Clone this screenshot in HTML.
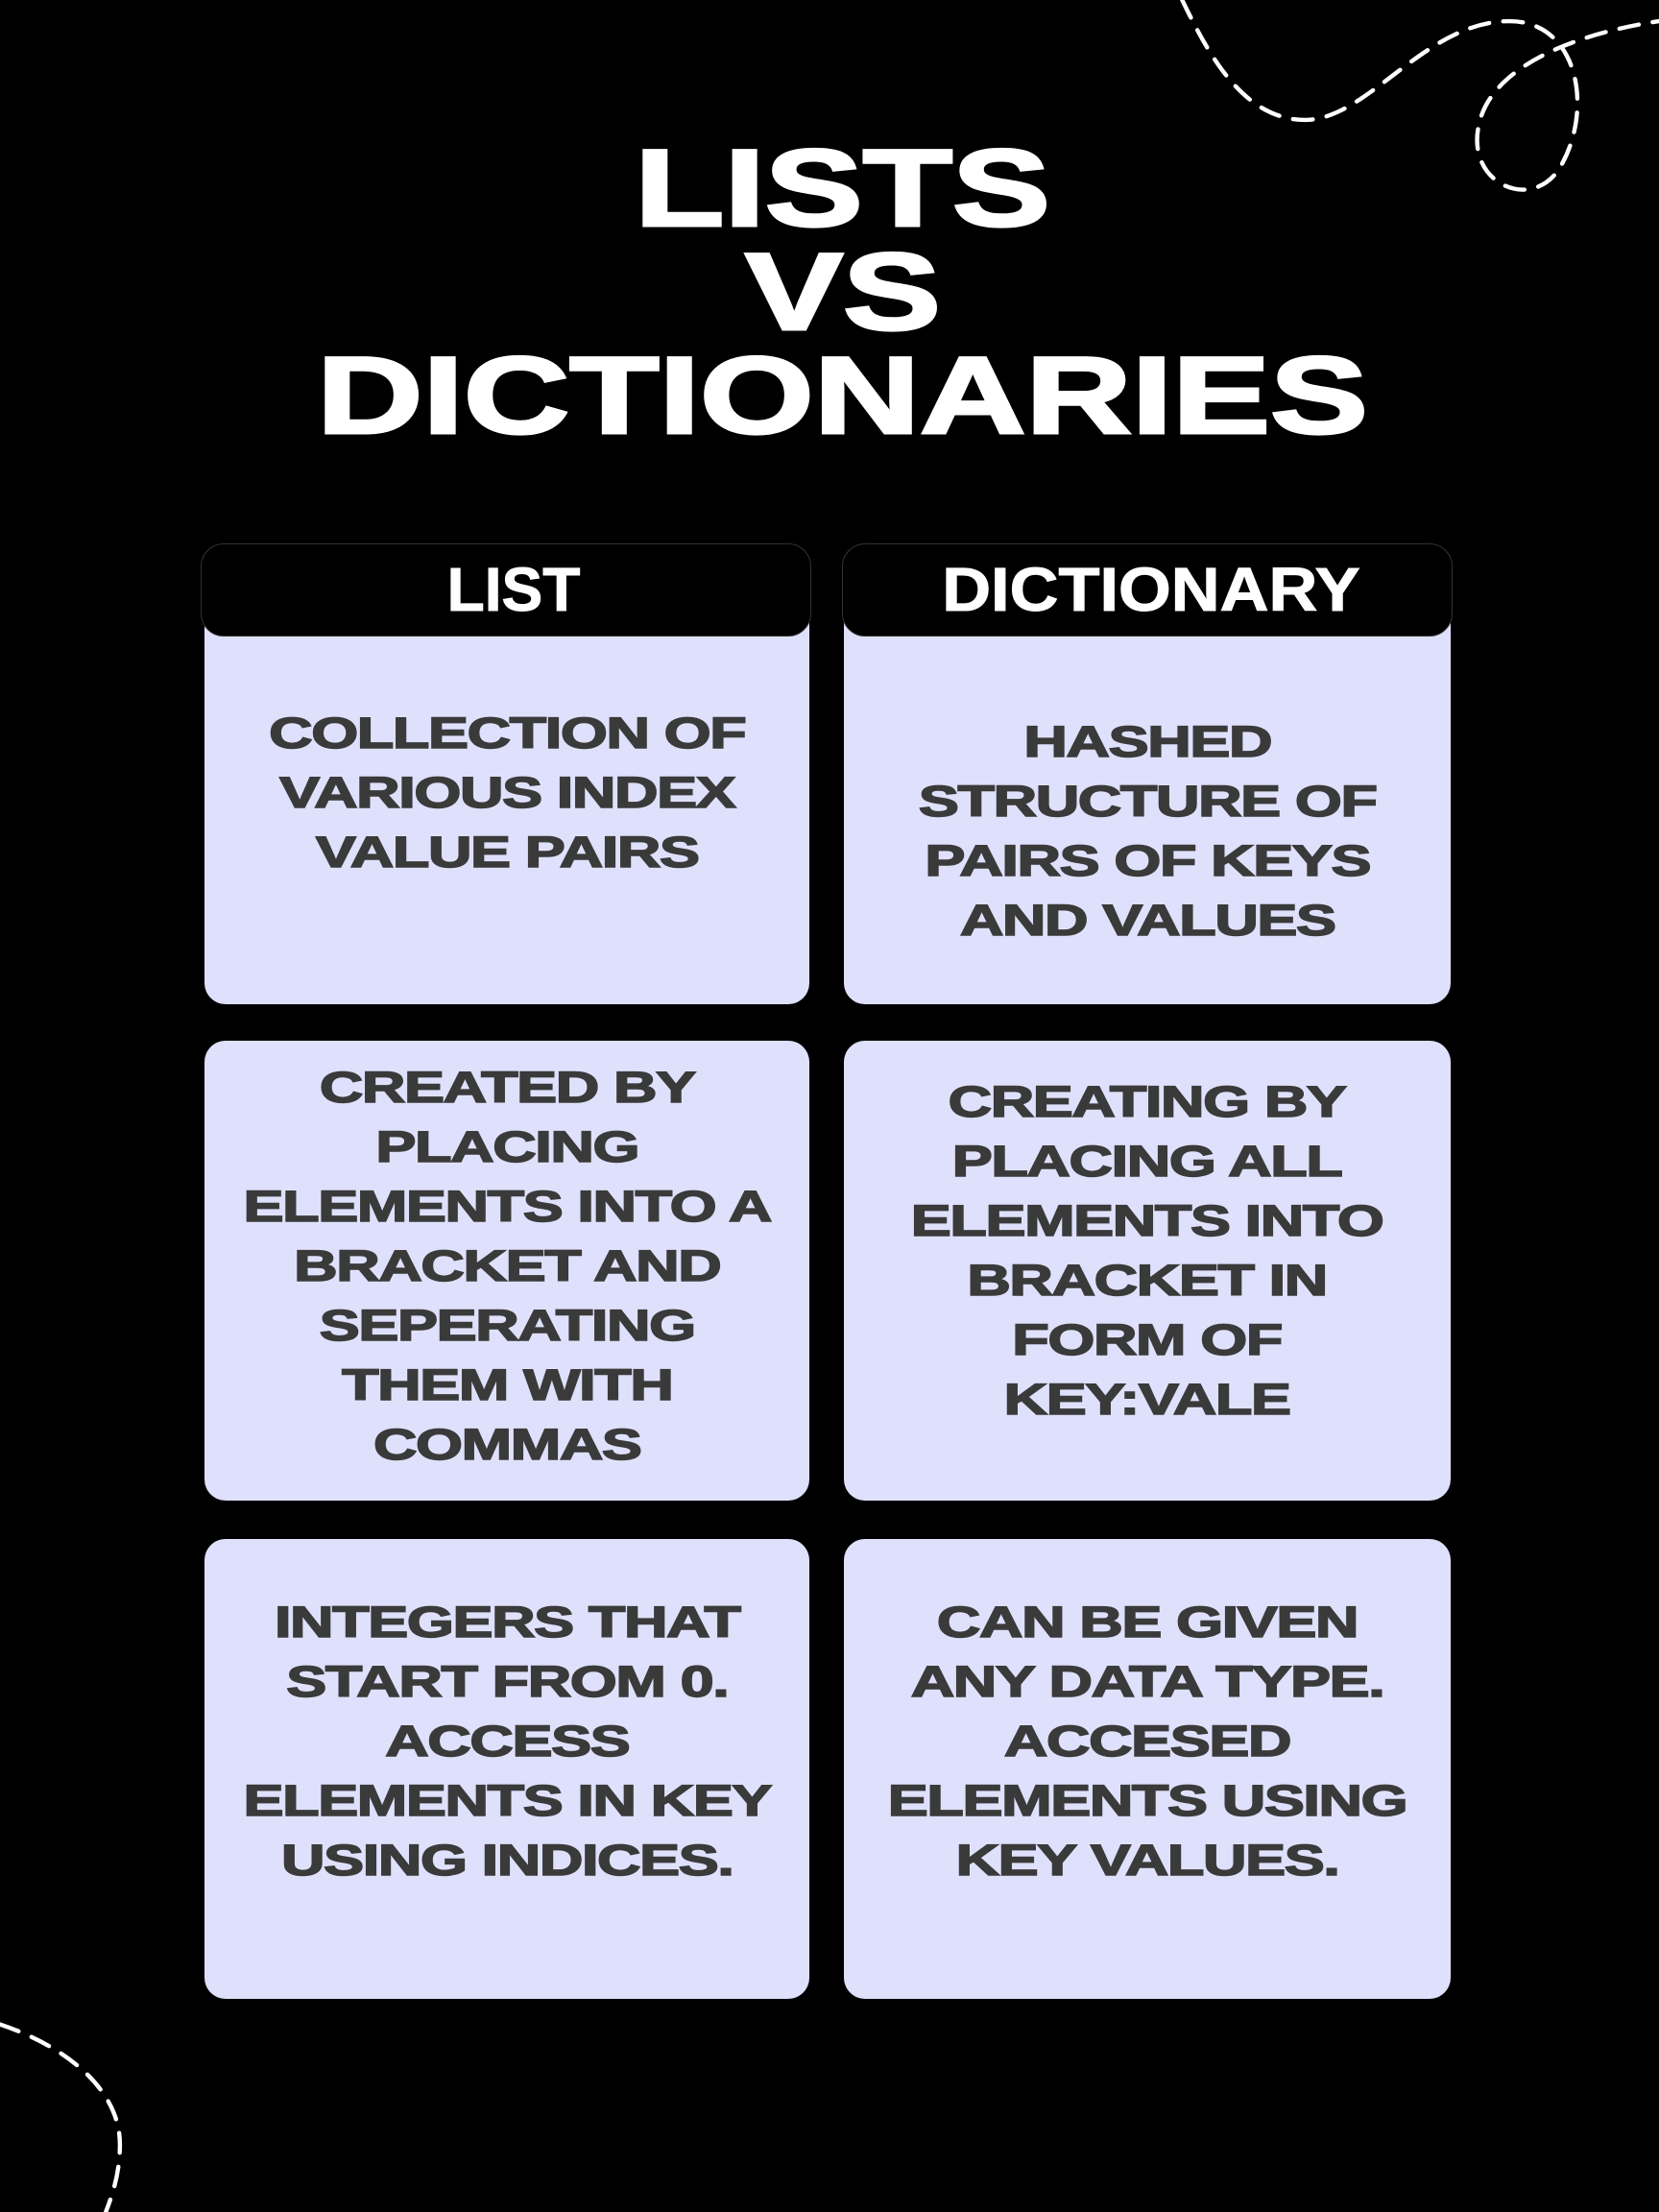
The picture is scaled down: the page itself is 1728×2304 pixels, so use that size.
<!DOCTYPE html>
<html><head><meta charset="utf-8"><style>
*{margin:0;padding:0;box-sizing:border-box}
body{width:1728px;height:2304px;background:#000;position:relative;overflow:hidden;font-family:"Liberation Sans",sans-serif}
.t{position:absolute;left:14px;width:1728px;text-align:center;color:#fff;font-weight:900;font-size:114px;line-height:108px;-webkit-text-stroke:3px #fff}
.t span{display:inline-block;transform:scaleX(1.34)}
.card{position:absolute;background:#dfe1fc;border-radius:22px}
.hd{position:absolute;background:#000;border:1px solid #333;border-radius:24px;color:#fff;font-weight:900;font-size:64px;text-align:center;line-height:95px;-webkit-text-stroke:1px #fff}
.hd span{display:inline-block}
.tx{position:absolute;text-align:center;color:#3a3a3a;font-weight:900;font-size:45px;line-height:62px;-webkit-text-stroke:1.5px #3a3a3a}
.tx span{display:inline-block;transform:scaleX(1.4);letter-spacing:-1px}
</style></head><body>
<div class="t" style="top:143px"><span>LISTS</span></div>
<div class="t" style="top:251px"><span>VS</span></div>
<div class="t" style="top:359px"><span>DICTIONARIES</span></div>

<div class="card" style="left:213px;top:600px;width:630px;height:446px"></div>
<div class="card" style="left:879px;top:600px;width:632px;height:446px"></div>
<div class="card" style="left:213px;top:1084px;width:630px;height:479px"></div>
<div class="card" style="left:879px;top:1084px;width:632px;height:479px"></div>
<div class="card" style="left:213px;top:1603px;width:630px;height:479px"></div>
<div class="card" style="left:879px;top:1603px;width:632px;height:479px"></div>

<div class="hd" style="left:209px;top:566px;width:636px;height:97px"><span style="transform:translateX(8px) scaleX(1.0)">LIST</span></div>
<div class="hd" style="left:877px;top:566px;width:636px;height:97px"><span style="transform:translateX(4px) scaleX(1.1)">DICTIONARY</span></div>

<div class="tx" style="left:213px;width:630px;top:733px"><span>COLLECTION OF<br>VARIOUS INDEX<br>VALUE PAIRS</span></div>
<div class="tx" style="left:879px;width:632px;top:742px"><span>HASHED<br>STRUCTURE OF<br>PAIRS OF KEYS<br>AND VALUES</span></div>
<div class="tx" style="left:213px;width:630px;top:1102px"><span>CREATED BY<br>PLACING<br>ELEMENTS INTO A<br>BRACKET AND<br>SEPERATING<br>THEM WITH<br>COMMAS</span></div>
<div class="tx" style="left:879px;width:632px;top:1117px"><span>CREATING BY<br>PLACING ALL<br>ELEMENTS INTO<br>BRACKET IN<br>FORM OF<br>KEY:VALE</span></div>
<div class="tx" style="left:213px;width:630px;top:1659px"><span>INTEGERS THAT<br>START FROM 0.<br>ACCESS<br>ELEMENTS IN KEY<br>USING INDICES.</span></div>
<div class="tx" style="left:879px;width:632px;top:1659px"><span>CAN BE GIVEN<br>ANY DATA TYPE.<br>ACCESED<br>ELEMENTS USING<br>KEY VALUES.</span></div>

<svg style="position:absolute;left:0;top:0" width="1728" height="2304" viewBox="0 0 1176 1568">
<g fill="none" stroke="#fff" stroke-width="3" stroke-dasharray="14 10" stroke-linecap="round">
<path d="M838 0 C855 35 880 85 925 85 C970 85 1010 15 1070 15 C1120 15 1130 80 1105 120 C1085 150 1040 130 1048 90 C1055 50 1110 25 1176 15"/>
<path d="M0 1435 C45 1450 85 1480 85 1520 C85 1540 80 1555 75 1568"/>
</g></svg>
</body></html>
